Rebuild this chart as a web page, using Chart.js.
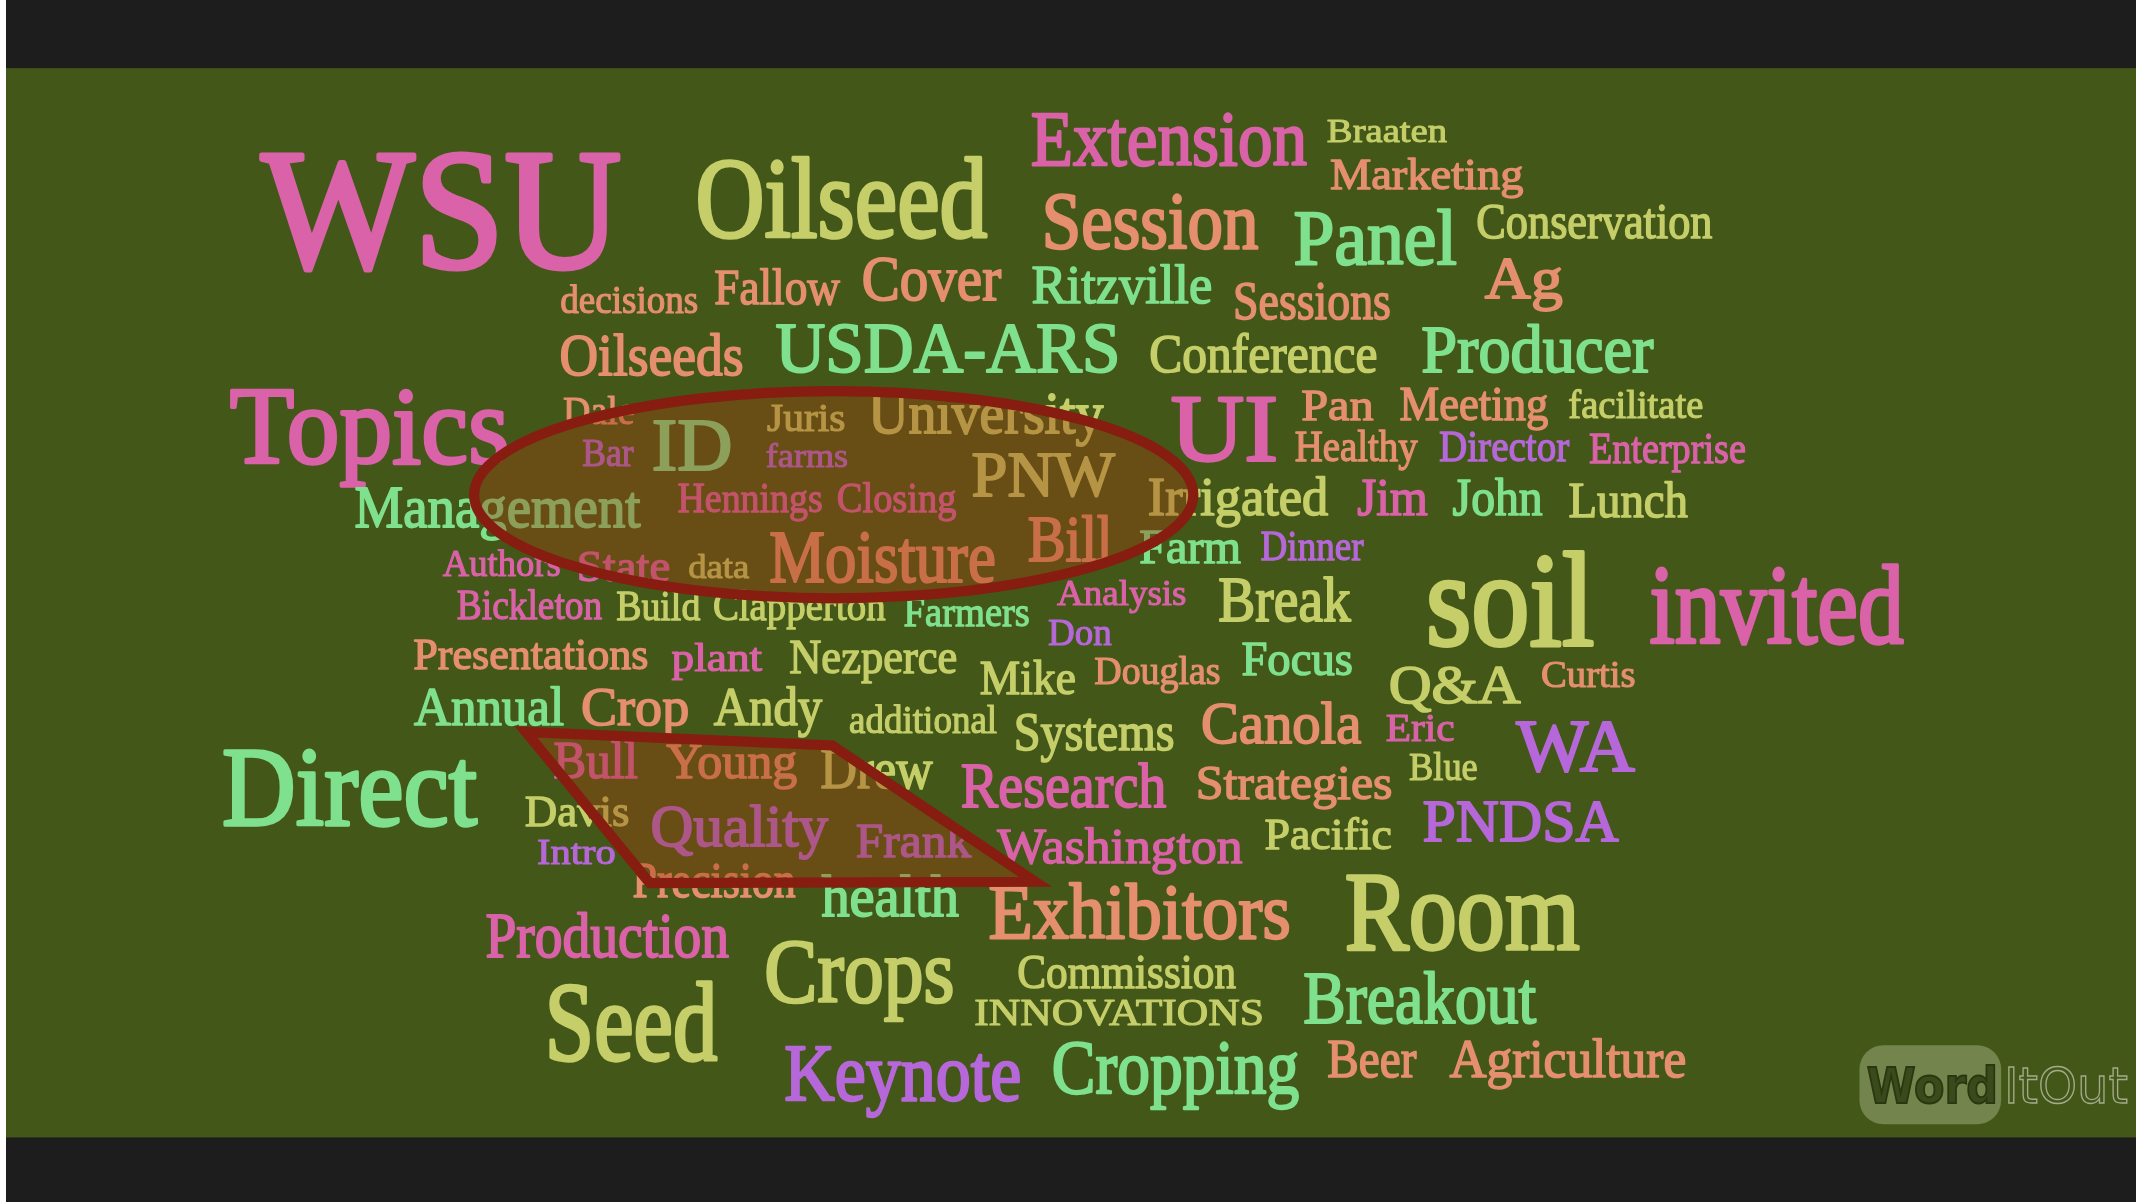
<!DOCTYPE html>
<html>
<head>
<meta charset="utf-8">
<script src="https://cdn.jsdelivr.net/npm/chart.js@4.4.1/dist/chart.umd.min.js"></script>
<style>
  html, body { margin: 0; padding: 0; background: #ffffff; overflow: hidden; }
  #wrap { width: 2136px; height: 1202px; position: relative; }
</style>
</head>
<body>
<div id="wrap"><canvas id="cloud"></canvas></div>
<script>
// word cloud layout, in units of a 1568 x 882 frame
const words = ['WSU','Oilseed','Extension','Braaten','Marketing','Session','Panel','Conservation','decisions','Fallow',
  'Cover','Ritzville','Sessions','Ag','Oilseeds','USDA-ARS','Conference','Producer','Topics','Dale',
  'Juris','University','UI','Pan','Meeting','facilitate','Bar','ID','farms','Healthy',
  'Director','Enterprise','Management','Hennings','Closing','PNW','Irrigated','Jim','John','Lunch',
  'Authors','State','data','Moisture','Bill','Farm','Dinner','Bickleton','Build','Clapperton',
  'Farmers','Analysis','Don','Break','soil','invited','Presentations','plant','Nezperce','Mike',
  'Douglas','Focus','Q&A','Curtis','Annual','Crop','Andy','additional','Systems','Canola',
  'Eric','WA','Direct','Bull','Young','Drew','Research','Strategies','Blue','Davis',
  'Quality','Frank','Washington','Pacific','PNDSA','Intro','Precision','health','Exhibitors','Room',
  'Production','Crops','Commission','INNOVATIONS','Breakout','Seed','Keynote','Cropping','Beer','Agriculture'];

const wordStart = [192,513,758,974,977,768,951,1085,412,525,
  634,758,907,1090,412,570,845,1044,170,414,
  563,638,861,956,1028,1152,428,480,563,951,
  1057,1167,261,498,615,714,844,997,1067,1152,
  325,425,506,566,755,837,926,336,453,524,
  664,776,770,895,1050,1212,304,493,580,720,
  804,912,1021,1132,304,428,524,624,746,883,
  1018,1113,165,407,489,603,706,880,1035,386,
  479,629,732,929,1045,395,465,603,727,989,
  357,563,748,716,958,404,577,774,975,1064];

const wordEnd = [454,724,959,1062,1118,923,1069,1257,512,617,
  735,889,1020,1147,545,820,1010,1214,371,465,
  620,810,936,1008,1136,1250,465,536,622,1041,
  1152,1281,470,603,702,819,975,1048,1132,1239,
  411,491,550,730,816,911,1001,442,514,650,
  755,870,816,992,1169,1397,475,560,702,789,
  895,992,1116,1200,414,505,604,732,861,999,
  1067,1200,350,468,585,685,856,1021,1084,461,
  608,713,912,1021,1188,451,584,704,946,1159,
  535,699,907,926,1128,526,748,953,1040,1237];

const wordBaseline = [196,174,121,104,139,182,194,175,230,223,
  220,222,234,219,275,273,273,273,340,311,
  316,318,338,308,308,307,342,345,343,338,
  338,340,387,376,376,364,378,378,378,379,
  423,426,424,427,412,413,411,454,455,455,
  459,444,473,456,473,472,491,492,494,509,
  502,495,516,504,532,532,532,538,550,545,
  544,566,605,571,571,578,592,586,572,606,
  621,629,633,623,617,634,658,672,688,696,
  702,735,725,752,751,778,807,802,790,790];

const wordSize = [126,84,57,24,33,59,57,37,30,37,
  46,40,41,43,44,52,41,50,81,30,
  30,44,70,33,35,29,29,54,24,33,
  33,33,43,31,31,46,41,39,39,37,
  28,32,25,54,48,35,31,31,31,31,
  31,27,28,46,98,82,33,30,35,35,
  29,35,41,28,40,40,40,29,41,44,
  30,54,83,38,37,42,46,35,30,33,
  44,35,37,33,44,27,37,44,57,82,
  46,67,36,28,54,82,59,56,41,40];

const wordGroup = ['pink','lime','pink','lime','salmon','salmon','mint','lime','salmon','salmon',
  'salmon','mint','salmon','salmon','salmon','mint','lime','mint','pink','salmon',
  'lime','lime','pink','salmon','salmon','lime','violet','mint','violet','salmon',
  'violet','pink','mint','pink','pink','lime','lime','pink','mint','lime',
  'pink','pink','lime','salmon','salmon','mint','violet','pink','lime','lime',
  'mint','pink','violet','lime','lime','pink','salmon','pink','lime','lime',
  'salmon','mint','lime','salmon','mint','salmon','lime','lime','lime','salmon',
  'pink','violet','mint','pink','salmon','lime','pink','salmon','lime','lime',
  'violet','violet','pink','lime','violet','violet','salmon','mint','salmon','lime',
  'pink','lime','lime','lime','mint','lime','violet','mint','salmon','salmon'];

// hand drawn highlights on top of the cloud
const ellipseCenter = [612, 363];
const ellipseRadius = [264, 76];
const polygonX = [386, 611, 760, 477];
const polygonY = [537, 547, 647, 648];

const palette = {
  pink: '#da62a8',
  lime: '#c5ce69',
  salmon: '#e58f6f',
  mint: '#7fe08e',
  violet: '#b667d9'
};

const cloudPlugin = {
  id: 'cloud',
  beforeDraw(chart) {
    const { ctx, scales: { x, y } } = chart;
    const left = x.getPixelForValue(4.4);
    ctx.save();
    ctx.fillStyle = '#ffffff';
    ctx.fillRect(0, 0, chart.width, chart.height);
    ctx.fillStyle = '#1d1d1d';
    ctx.fillRect(left, 0, chart.width - left, chart.height);
    ctx.fillStyle = '#435818';
    const top = y.getPixelForValue(50), bottom = y.getPixelForValue(834.6);
    ctx.fillRect(left, top, chart.width - left, bottom - top);
    ctx.restore();
  },
  afterDatasetsDraw(chart) {
    const { ctx, scales: { x, y } } = chart;
    const k = Math.abs(y.getPixelForValue(100) - y.getPixelForValue(0)) / 100;
    const kx = Math.abs(x.getPixelForValue(100) - x.getPixelForValue(0)) / 100;

    // words
    words.forEach((w, i) => {
      const fs = wordSize[i] * k;
      ctx.save();
      ctx.font = fs + 'px "Liberation Serif"';
      const m = ctx.measureText(w);
      const ink = m.actualBoundingBoxLeft + m.actualBoundingBoxRight;
      const x0 = x.getPixelForValue(wordStart[i]);
      const x1 = x.getPixelForValue(wordEnd[i]);
      ctx.translate(x0, y.getPixelForValue(wordBaseline[i]));
      ctx.scale((x1 - x0) / ink, 1);
      ctx.fillStyle = palette[wordGroup[i]];
      ctx.strokeStyle = palette[wordGroup[i]];
      ctx.lineJoin = 'round';
      ctx.lineWidth = fs * 0.03;
      ctx.fillText(w, m.actualBoundingBoxLeft, 0);
      ctx.strokeText(w, m.actualBoundingBoxLeft, 0);
      ctx.restore();
    });

    // highlight shapes
    ctx.save();
    ctx.lineWidth = 7.5 * k;
    ctx.lineJoin = 'miter';
    ctx.strokeStyle = '#861d10';
    ctx.fillStyle = 'rgba(160, 63, 14, 0.4)';
    ctx.beginPath();
    ctx.ellipse(x.getPixelForValue(ellipseCenter[0]), y.getPixelForValue(ellipseCenter[1]),
      ellipseRadius[0] * kx, ellipseRadius[1] * k, 0, 0, Math.PI * 2);
    ctx.fill();
    ctx.stroke();
    ctx.beginPath();
    polygonX.forEach((px, i) => {
      const X = x.getPixelForValue(px), Y = y.getPixelForValue(polygonY[i]);
      if (i === 0) ctx.moveTo(X, Y); else ctx.lineTo(X, Y);
    });
    ctx.closePath();
    ctx.fill();
    ctx.stroke();
    ctx.restore();

    // WordItOut badge
    ctx.save();
    const bx = x.getPixelForValue(1365), by = y.getPixelForValue(767);
    const bw = x.getPixelForValue(1469) - bx, bh = y.getPixelForValue(825) - by;
    ctx.fillStyle = '#73854c';
    ctx.beginPath();
    ctx.roundRect(bx, by, bw, bh, 24);
    ctx.fill();
    const drawFit = (text, font, a, b, base, fill, stroke, lw) => {
      ctx.save();
      ctx.font = font;
      const m = ctx.measureText(text);
      const ink = m.actualBoundingBoxLeft + m.actualBoundingBoxRight;
      const X0 = x.getPixelForValue(a), X1 = x.getPixelForValue(b);
      ctx.translate(X0, y.getPixelForValue(base));
      ctx.scale((X1 - X0) / ink, 1);
      if (fill) { ctx.fillStyle = fill; ctx.fillText(text, m.actualBoundingBoxLeft, 0); }
      if (stroke) { ctx.strokeStyle = stroke; ctx.lineWidth = lw; ctx.strokeText(text, m.actualBoundingBoxLeft, 0); }
      ctx.restore();
    };
    drawFit('Word', 'bold ' + (36 * k) + 'px "DejaVu Sans"', 1371, 1464, 809, '#3a4a1a', '#2b3710', 2);
    drawFit('ItOut', (36 * k) + 'px "DejaVu Sans"', 1474, 1562, 809, null, '#a3ab8a', 1.3);
    ctx.restore();
  }
};

new Chart(document.getElementById('cloud'), {
  type: 'scatter',
  data: {
    datasets: [{
      label: 'words',
      data: words.map((w, i) => ({ x: wordStart[i], y: wordBaseline[i] })),
      pointRadius: 0,
      pointHoverRadius: 0
    }]
  },
  options: {
    responsive: true,
    maintainAspectRatio: false,
    animation: false,
    devicePixelRatio: 1,
    layout: { padding: 0 },
    events: [],
    plugins: { legend: { display: false }, tooltip: { enabled: false } },
    scales: {
      x: { type: 'linear', min: 0, max: 1568, display: false },
      y: { type: 'linear', min: 0, max: 882, reverse: true, display: false }
    }
  },
  plugins: [cloudPlugin]
});
</script>
</body>
</html>
